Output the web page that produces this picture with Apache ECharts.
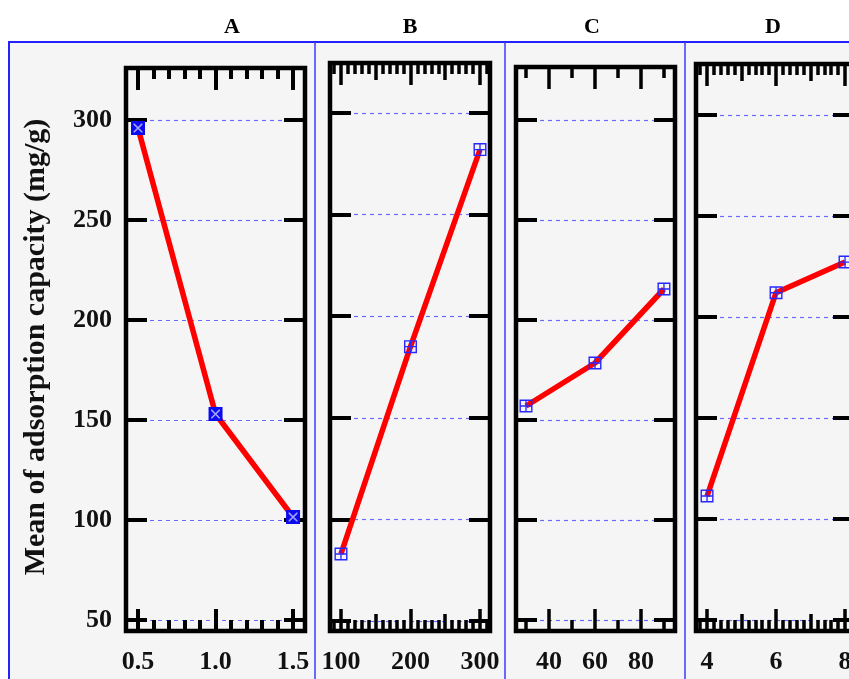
<!DOCTYPE html>
<html><head><meta charset="utf-8">
<script src="https://cdn.jsdelivr.net/npm/echarts@6/dist/echarts.min.js"></script>
<style>html,body{margin:0;padding:0;background:#fff}#c{width:849px;height:679px}</style>
</head><body><div id="c"></div>
<script>
// ---- data ----
const panelTitles = ['A', 'B', 'C', 'D'];
const yAxisName = 'Mean of adsorption capacity (mg/g)';
const yTicks = [50, 100, 150, 200, 250, 300];

const aX = [0.5, 1.0, 1.5];
const aY = [296, 153, 101.5];
const bX = [100, 200, 300];
const bY = [83, 185, 282];
const cX = [30, 60, 90];
const cY = [157, 178.5, 215.5];
const dX = [4, 6, 8];
const dY = [111.4, 212, 227.2];

const aMajor = [0.5, 1.0, 1.5];
const aMid = [];
const aMinor = [0.6, 0.7, 0.8, 0.9, 1.1, 1.2, 1.3, 1.4];
const bMajor = [100, 200, 300];
const bMid = [150, 250];
const bMinor = [90, 110, 120, 130, 140, 160, 170, 180, 190, 210, 220, 230, 240, 260, 270, 280, 290, 310];
const cMajor = [40, 60, 80];
const cMid = [];
const cMinor = [30, 50, 70, 90];
const dMajor = [4, 6, 8];
const dMid = [5, 7];
const dMinor = [3.8, 4.2, 4.4, 4.6, 4.8, 5.2, 5.4, 5.6, 5.8, 6.2, 6.4, 6.6, 6.8, 7.2, 7.4, 7.6, 7.8, 8.2];

// ---- layout ----
const FONT = 'Liberation Serif';
const panels = [
  {x: aX, y: aY, major: aMajor, mid: aMid, minor: aMinor, fmt: v => Number(v).toFixed(1),
   xr: [0.4226, 1.577], yr: [44.5, 326], rect: {left: 126, top: 68, width: 179, height: 563}, tw: 4},
  {x: bX, y: bY, major: bMajor, mid: bMid, minor: bMinor, fmt: v => String(v),
   xr: [84.2, 314.4], yr: [45.1, 324.6], rect: {left: 330, top: 63, width: 160, height: 568}, tw: 3.5},
  {x: cX, y: cY, major: cMajor, mid: cMid, minor: cMinor, fmt: v => String(v),
   xr: [25.65, 94.8], yr: [44.5, 326.5], rect: {left: 516, top: 67, width: 159, height: 564}, tw: 3.5},
  {x: dX, y: dY, major: dMajor, mid: dMid, minor: dMinor, fmt: v => String(v),
   xr: [3.68, 8.26], yr: [44.6, 325.2], rect: {left: 696, top: 64, width: 158, height: 567}, tw: 3.5}
];
const titleX = [232, 410, 592, 773];

const hollowCross = 'path://M0,0L12,0L12,12L0,12Z M1.3,1.3L1.3,10.7L10.7,10.7L10.7,1.3Z M5.4,1.3L6.6,1.3L6.6,10.7L5.4,10.7Z M1.3,5.4L10.7,5.4L10.7,6.6L1.3,6.6Z';
const xMark = 'path://M0,0L1.5,0L12,10.5L12,12L10.5,12L0,1.5Z M10.5,0L12,0L12,1.5L1.5,12L0,12L0,10.5Z';

const grids = [], xAxes = [], yAxes = [], series = [];

function xAx(gi, pos, r, ticks, len, w, labels, fmt) {
  return {
    gridIndex: gi, type: 'value', position: pos, min: r[0], max: r[1], z: 3,
    axisLine: {show: false}, splitLine: {show: false}, splitArea: {show: false},
    axisTick: {show: true, inside: true, length: len, customValues: ticks, lineStyle: {color: '#000', width: w}},
    axisLabel: labels ? {show: true, customValues: labels, formatter: fmt, margin: 18, color: '#111',
      fontFamily: FONT, fontWeight: 'bold', fontSize: 26} : {show: false}
  };
}

panels.forEach((p, i) => {
  grids.push(Object.assign({show: true, borderColor: '#000', borderWidth: 4.5, backgroundColor: 'transparent',
    containLabel: false, outerBoundsMode: 'none'}, p.rect));
  const xi = xAxes.length;
  xAxes.push(xAx(i, 'bottom', p.xr, p.major, 22, p.tw, p.major, p.fmt));
  if (p.mid.length) xAxes.push(xAx(i, 'bottom', p.xr, p.mid, 17, p.tw));
  xAxes.push(xAx(i, 'bottom', p.xr, p.minor, 11, p.tw));
  xAxes.push(xAx(i, 'top', p.xr, p.major, 22, p.tw));
  if (p.mid.length) xAxes.push(xAx(i, 'top', p.xr, p.mid, 17, p.tw));
  xAxes.push(xAx(i, 'top', p.xr, p.minor, 11, p.tw));

  const yi = yAxes.length;
  yAxes.push({
    gridIndex: i, type: 'value', position: 'left', min: p.yr[0], max: p.yr[1], z: 3,
    axisLine: {show: false},
    axisTick: {show: true, inside: true, length: 21, customValues: yTicks, lineStyle: {color: '#000', width: 4}},
    axisLabel: i === 0 ? {show: true, customValues: yTicks, margin: 14, color: '#111',
      fontFamily: FONT, fontWeight: 'bold', fontSize: 26} : {show: false},
    splitLine: {show: true, lineStyle: {color: '#6a6aff', type: [4, 4], width: 1.2}}
  });
  yAxes.push({
    gridIndex: i, type: 'value', position: 'right', min: p.yr[0], max: p.yr[1], z: 3,
    axisLine: {show: false}, splitLine: {show: false},
    axisTick: {show: true, inside: true, length: 21, customValues: yTicks, lineStyle: {color: '#000', width: 4}},
    axisLabel: {show: false}
  });

  const data = p.x.map((v, k) => [v, p.y[k]]);
  series.push({
    type: 'line', xAxisIndex: xi, yAxisIndex: yi, data: data, z: 5,
    lineStyle: {color: '#ff0000', width: 5.5},
    symbol: i === 0 ? 'rect' : hollowCross,
    symbolSize: i === 0 ? 14 : 13,
    itemStyle: {color: i === 0 ? '#0b0bee' : '#2727ff'},
    emphasis: {disabled: true}
  });
  if (i === 0) {
    series.push({
      type: 'scatter', xAxisIndex: xi, yAxisIndex: yi, data: data, z: 6, silent: true,
      symbol: xMark, symbolSize: 9, itemStyle: {color: '#c8c8ff'}
    });
  }
});

const graphic = [
  {type: 'rect', z: -100, shape: {x: 9, y: 42, width: 900, height: 700},
   style: {fill: '#f5f5f5', stroke: '#2222ff', lineWidth: 2}},
  {type: 'line', z: -99, shape: {x1: 315, y1: 42, x2: 315, y2: 679}, style: {stroke: '#3a3aff', lineWidth: 1.5}},
  {type: 'line', z: -99, shape: {x1: 505, y1: 42, x2: 505, y2: 679}, style: {stroke: '#3a3aff', lineWidth: 1.5}},
  {type: 'line', z: -99, shape: {x1: 685, y1: 42, x2: 685, y2: 679}, style: {stroke: '#3a3aff', lineWidth: 1.5}},
  {type: 'text', x: 36, y: 347, rotation: Math.PI / 2,
   style: {text: yAxisName, x: 0, y: 0, textAlign: 'center', textVerticalAlign: 'middle',
     font: 'bold 30px "' + FONT + '"', fill: '#111'}}
];
panelTitles.forEach((t, i) => {
  graphic.push({type: 'text', style: {text: t, x: titleX[i], y: 27, textAlign: 'center', textVerticalAlign: 'middle',
    font: 'bold 22px "' + FONT + '"', fill: '#000'}});
});

const chart = echarts.init(document.getElementById('c'), null, {renderer: 'canvas'});
chart.setOption({
  backgroundColor: '#ffffff',
  animation: false,
  graphic: graphic,
  grid: grids,
  xAxis: xAxes,
  yAxis: yAxes,
  series: series
});
</script>
</body></html>
